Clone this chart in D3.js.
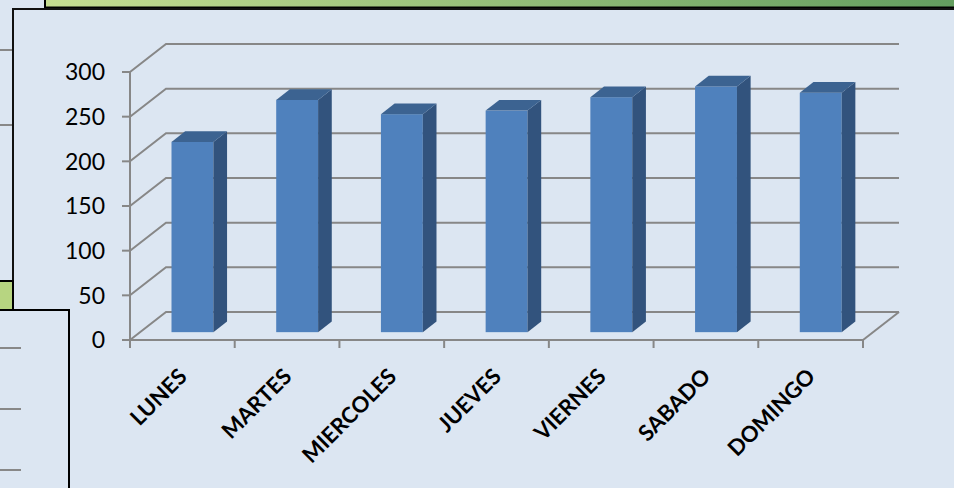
<!DOCTYPE html>
<html>
<head>
<meta charset="utf-8">
<script src="https://cdn.jsdelivr.net/npm/d3@7"></script>
<style>
    body { margin: 0; background: #dce6f2; overflow: hidden; }
    .tickLabel { font-family: Lato, "Open Sans", sans-serif; font-size: 23px; fill: #000; }
    .catLabel { font-family: Lato, "Open Sans", sans-serif; font-size: 22px; font-weight: bold; fill: #000; }
</style>
</head>
<body>
<script>
//chart data
var dias = ["LUNES", "MARTES", "MIERCOLES", "JUEVES", "VIERNES", "SABADO", "DOMINGO"];
var valores = [213, 260, 244, 248, 263, 275, 268];
var ticksY = [0, 50, 100, 150, 200, 250, 300];

window.onload = function(){

    //SVG dimension variables
    var w = 954, h = 488;

    var svg = d3.select("body")
        .append("svg")
        .attr("width", w)
        .attr("height", h);

    //gradient for the green header strip
    var grad = svg.append("defs")
        .append("linearGradient")
        .attr("id", "verde")
        .attr("x1", "0%").attr("x2", "100%");
    grad.append("stop").attr("offset", "0%").attr("stop-color", "#c6de92");
    grad.append("stop").attr("offset", "100%").attr("stop-color", "#629d5f");

    //bits of the other panels behind the chart
    svg.selectAll(".backLine")
        .data([50, 125])
        .enter()
        .append("line")
        .attr("x1", 0).attr("x2", 12)
        .attr("y1", function(d){ return d; })
        .attr("y2", function(d){ return d; })
        .style("stroke", "#888")
        .style("stroke-width", 2);

    svg.append("rect")
        .attr("x", 45).attr("y", -5)
        .attr("width", 920).attr("height", 12.5)
        .style("fill", "url(#verde)")
        .style("stroke", "#000")
        .style("stroke-width", 2);

    //main panel
    svg.append("rect")
        .attr("x", 13).attr("y", 9)
        .attr("width", 960).attr("height", 500)
        .style("fill", "#dce6f2")
        .style("stroke", "#111")
        .style("stroke-width", 2);

    //scales
    var x = d3.scaleBand()
        .domain(dias)
        .range([130, 863])
        .padding(0);

    var y = d3.scaleLinear()
        .domain([0, 300])
        .range([340, 72]);

    //3d depth offset of the back wall, bar front and back as fraction of depth
    var dx = 36, dy = -28;
    var fFront = 0.28, fBack = 0.66;
    var barW = x.bandwidth() * 0.4;

    var grid = svg.append("g").attr("class", "grid")
        .style("fill", "none")
        .style("stroke", "#878787")
        .style("stroke-width", 2);

    //side wall + back wall gridlines
    grid.selectAll("polyline")
        .data(ticksY)
        .enter()
        .append("polyline")
        .attr("points", function(d){
            var y0 = y(d);
            return [[130, y0], [130 + dx, y0 + dy], [863 + dx, y0 + dy]].join(" ");
        });

    //floor right edge
    grid.append("line")
        .attr("x1", x.range()[1]).attr("y1", y(0))
        .attr("x2", x.range()[1] + dx).attr("y2", y(0) + dy);

    //bars
    var bars = svg.selectAll(".bar")
        .data(valores)
        .enter()
        .append("g")
        .attr("class", "bar");

    function cx(i){ return x(dias[i]) + x.bandwidth() / 2; }

    //front face
    bars.append("rect")
        .attr("x", function(d, i){ return cx(i) - barW / 2 + dx * fFront; })
        .attr("y", function(d){ return y(d) + dy * fFront; })
        .attr("width", barW)
        .attr("height", function(d){ return y(0) - y(d); })
        .style("fill", "#4f81bd");

    //side face
    bars.append("polygon")
        .attr("points", function(d, i){
            var xr = cx(i) + barW / 2 + dx * fFront;
            var k = fBack - fFront;
            return [[xr, y(d) + dy * fFront], [xr + dx * k, y(d) + dy * fBack],
                    [xr + dx * k, y(0) + dy * fBack], [xr, y(0) + dy * fFront]].join(" ");
        })
        .style("fill", "#32537d");

    //top face
    bars.append("polygon")
        .attr("points", function(d, i){
            var xl = cx(i) - barW / 2 + dx * fFront;
            var k = fBack - fFront;
            var yt = y(d) + dy * fFront;
            return [[xl, yt], [xl + barW, yt], [xl + barW + dx * k, yt + dy * k],
                    [xl + dx * k, yt + dy * k]].join(" ");
        })
        .style("fill", "#3c6391");

    //front axes
    var axisG = svg.append("g")
        .style("stroke", "#878787")
        .style("stroke-width", 2);

    axisG.append("line")
        .attr("x1", 130).attr("x2", 130)
        .attr("y1", y(300)).attr("y2", y(0) + 1);

    axisG.append("line")
        .attr("x1", 122).attr("x2", x.range()[1])
        .attr("y1", y(0)).attr("y2", y(0));

    axisG.selectAll(".yTick")
        .data(ticksY)
        .enter()
        .append("line")
        .attr("x1", 122).attr("x2", 130)
        .attr("y1", function(d){ return y(d); })
        .attr("y2", function(d){ return y(d); });

    //category ticks at band edges
    axisG.selectAll(".xTick")
        .data(dias.map(function(d){ return x(d); }).concat([x.range()[1]]))
        .enter()
        .append("line")
        .attr("x1", function(d){ return d; })
        .attr("x2", function(d){ return d; })
        .attr("y1", y(0)).attr("y2", y(0) + 8);

    //value labels
    svg.selectAll(".tickLabel")
        .data(ticksY)
        .enter()
        .append("text")
        .attr("class", "tickLabel")
        .attr("text-anchor", "end")
        .attr("x", 105)
        .attr("y", function(d){ return y(d); })
        .attr("dy", "0.36em")
        .text(function(d){ return d; });

    //day labels, rotated
    svg.selectAll(".catLabel")
        .data(dias)
        .enter()
        .append("text")
        .attr("class", "catLabel")
        .attr("text-anchor", "end")
        .attr("transform", function(d){
            return "translate(" + (x(d) + x.bandwidth() / 2 + 6) + ",378) rotate(-45)";
        })
        .text(function(d){ return d; });

    //panels in front on the lower left
    svg.append("rect")
        .attr("x", -5).attr("y", 281)
        .attr("width", 18).attr("height", 29)
        .style("fill", "#b7d581")
        .style("stroke", "#000")
        .style("stroke-width", 2);

    svg.append("rect")
        .attr("x", -5).attr("y", 310)
        .attr("width", 74).attr("height", 190)
        .style("fill", "#dce6f2")
        .style("stroke", "#000")
        .style("stroke-width", 2);

    svg.selectAll(".panelLine")
        .data([348, 409, 470])
        .enter()
        .append("line")
        .attr("x1", 0).attr("x2", 21)
        .attr("y1", function(d){ return d; })
        .attr("y2", function(d){ return d; })
        .style("stroke", "#888")
        .style("stroke-width", 2);
};
</script>
</body>
</html>
